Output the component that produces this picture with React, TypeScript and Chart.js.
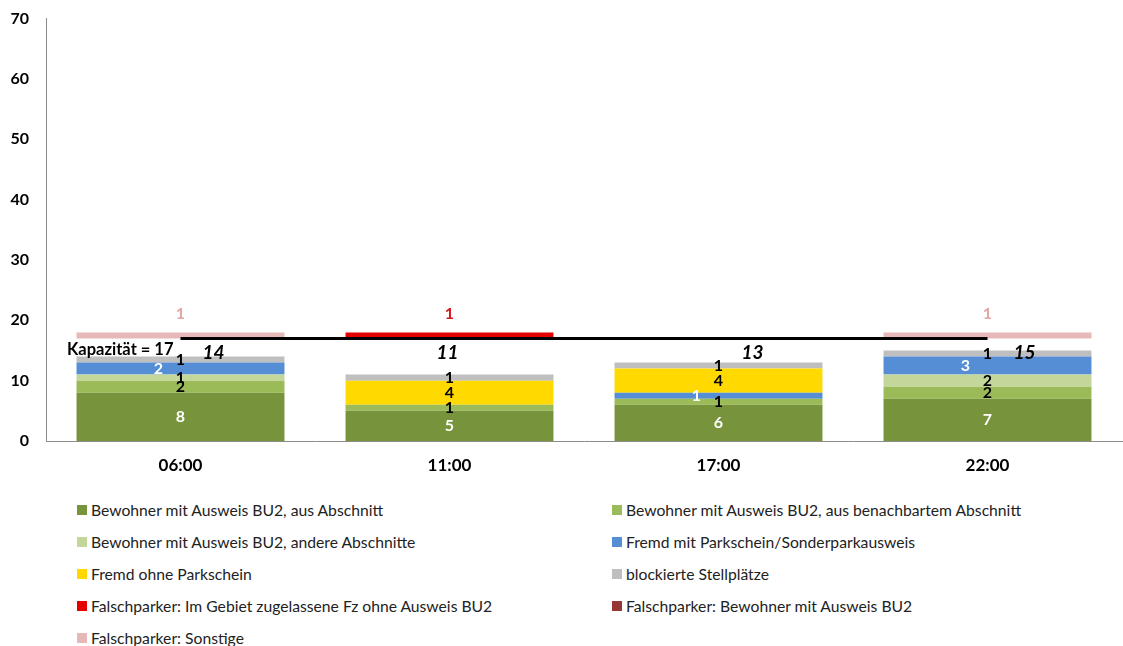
import React, { useEffect, useRef } from 'react';
import { Chart, registerables } from 'chart.js';

Chart.register(...registerables);

const categories = ['06:00', '11:00', '17:00', '22:00'];
const bewohnerAbschnitt = [8, 5, 6, 7];
const bewohnerBenachbart = [2, 1, 1, 2];
const bewohnerAndere = [1, 0, 0, 2];
const fremdMitParkschein = [2, 0, 1, 3];
const fremdOhneParkschein = [0, 4, 4, 0];
const blockiert = [1, 1, 1, 1];
const falschGebiet = [0, 1, 0, 0];
const falschBewohner = [0, 0, 0, 0];
const falschSonstige = [1, 0, 0, 1];
const totals = [14, 11, 13, 15];
const capacity = 17;
const capacityLine = [17, 17, 17, 17];
const yMax = 70;
const yStep = 10;

const FONT = 'Lato, "Open Sans", sans-serif';

// label style offsets (px) for the italic totals
const totalDx = [33, -2, 34, 37];

const legendItems = [
  { label: 'Bewohner mit Ausweis BU2, aus Abschnitt', color: '#77933C' },
  { label: 'Bewohner mit Ausweis BU2, aus benachbartem Abschnitt', color: '#9BBB59' },
  { label: 'Bewohner mit Ausweis BU2, andere Abschnitte', color: '#C4D79B' },
  { label: 'Fremd mit Parkschein/Sonderparkausweis', color: '#558ED5' },
  { label: 'Fremd ohne Parkschein', color: '#FFD900' },
  { label: 'blockierte Stellplätze', color: '#BFBFBF' },
  { label: 'Falschparker: Im Gebiet zugelassene Fz ohne Ausweis BU2', color: '#E50000' },
  { label: 'Falschparker: Bewohner mit Ausweis BU2', color: '#953735' },
  { label: 'Falschparker: Sonstige', color: '#E6B9B8' },
];

const labelPlugin = {
  id: 'segLabels',
  afterDatasetsDraw(chart: any) {
    const ctx = chart.ctx;
    ctx.save();
    chart.data.datasets.forEach((ds: any, i: number) => {
      const st = ds.labelStyle;
      if (!st) return;
      const meta = chart.getDatasetMeta(i);
      meta.data.forEach((el: any, j: number) => {
        const v = ds.data[j];
        if (!v) return;
        const p = el.getProps(['x', 'y', 'base'], true);
        ctx.font = `bold 16px ${FONT}`;
        ctx.fillStyle = st.color;
        ctx.textAlign = 'center';
        ctx.textBaseline = 'middle';
        const yy = st.above ? p.y - 19 : (p.y + p.base) / 2;
        ctx.fillText(String(v), p.x + (st.dx || 0), yy);
      });
    });
    const xs = chart.scales.x;
    const ys = chart.scales.y;
    const yc = ys.getPixelForValue(capacity);
    ctx.font = `italic bold 19px ${FONT}`;
    ctx.fillStyle = '#000';
    ctx.textAlign = 'center';
    ctx.textBaseline = 'middle';
    totals.forEach((t, j) => {
      ctx.fillText(String(t), xs.getPixelForValue(j) + totalDx[j], yc + 14);
    });
    ctx.font = `bold 16.5px ${FONT}`;
    ctx.textAlign = 'right';
    ctx.fillText('Kapazität = ' + capacity, xs.getPixelForValue(0) - 7, yc + 11);
    ctx.restore();
  },
};

export default function App() {
  const ref = useRef<HTMLCanvasElement>(null);
  useEffect(() => {
    if (!ref.current) return;
    const spacer = totals.map((t) => capacity - t);
    const bar = (label: string, data: number[], color: string, labelStyle?: any) => ({
      type: 'bar' as const,
      label,
      data,
      backgroundColor: color,
      stack: 'main',
      labelStyle,
      categoryPercentage: 1,
      barPercentage: 0.773,
    });
    const chart = new Chart(ref.current, {
      type: 'bar',
      data: {
        labels: categories,
        datasets: [
          bar('Bewohner mit Ausweis BU2, aus Abschnitt', bewohnerAbschnitt, '#77933C', { color: '#fff' }),
          bar('Bewohner mit Ausweis BU2, aus benachbartem Abschnitt', bewohnerBenachbart, '#9BBB59', { color: '#000' }),
          bar('Bewohner mit Ausweis BU2, andere Abschnitte', bewohnerAndere, '#C4D79B', { color: '#000' }),
          bar('Fremd mit Parkschein/Sonderparkausweis', fremdMitParkschein, '#558ED5', { color: '#fff', dx: -22 }),
          bar('Fremd ohne Parkschein', fremdOhneParkschein, '#FFD900', { color: '#000' }),
          bar('blockierte Stellplätze', blockiert, '#BFBFBF', { color: '#000' }),
          bar('spacer', spacer, 'rgba(0,0,0,0)'),
          bar('Falschparker: Im Gebiet zugelassene Fz ohne Ausweis BU2', falschGebiet, '#E50000', { color: '#D9161C', above: true }),
          bar('Falschparker: Bewohner mit Ausweis BU2', falschBewohner, '#953735', { color: '#953735', above: true }),
          bar('Falschparker: Sonstige', falschSonstige, '#E6B9B8', { color: '#E3A5A5', above: true }),
          {
            type: 'line' as const,
            label: 'Kapazität',
            data: capacityLine,
            borderColor: '#000',
            borderWidth: 3,
            pointRadius: 0,
            stack: 'cap',
            order: -1,
          } as any,
        ],
      },
      options: {
        animation: false,
        responsive: false,
        maintainAspectRatio: false,
        layout: { padding: { left: 0, right: 1, top: 10, bottom: 0 } },
        plugins: { legend: { display: false }, tooltip: { enabled: false } },
        scales: {
          x: {
            stacked: true,
            grid: { display: false, drawTicks: false },
            border: { display: true, color: '#8C8C8C', width: 1 },
            ticks: { color: '#000', font: { family: FONT, size: 17, weight: 'bold' }, padding: 14 },
            afterFit: (s: any) => {
              s.height = 39;
            },
          },
          y: {
            stacked: true,
            min: 0,
            max: yMax,
            grid: { display: false, drawTicks: false },
            border: { display: true, color: '#8C8C8C', width: 1 },
            ticks: { stepSize: yStep, color: '#000', font: { family: FONT, size: 16, weight: 'bold' }, padding: 17 },
            afterFit: (s: any) => {
              s.width = 46;
            },
          },
        },
      },
      plugins: [labelPlugin],
    } as any);
    return () => chart.destroy();
  }, []);

  return (
    <div style={{ position: 'fixed', left: 0, top: 0, width: 1123, height: 646, background: '#fff', overflow: 'hidden' }}>
      <canvas ref={ref} width={1123} height={488} style={{ position: 'absolute', left: 0, top: -8, width: 1123, height: 488 }} />
      {legendItems.map((it, i) => {
        const col = i % 2;
        const row = Math.floor(i / 2);
        return (
          <div
            key={it.label}
            style={{
              position: 'absolute',
              left: col === 0 ? 77 : 612,
              top: 494 + row * 32,
              height: 32,
              display: 'flex',
              alignItems: 'center',
              fontFamily: FONT,
              fontSize: 15.7,
              color: '#222',
              whiteSpace: 'nowrap',
            }}
          >
            <span style={{ display: 'inline-block', width: 10, height: 10, background: it.color, marginRight: 4 }} />
            {it.label}
          </div>
        );
      })}
    </div>
  );
}
